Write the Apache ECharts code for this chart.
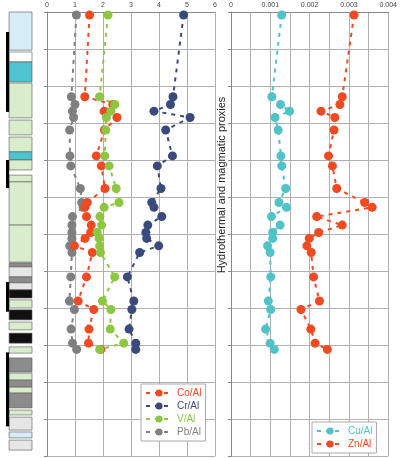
<!DOCTYPE html>
<html><head><meta charset="utf-8">
<script src="https://cdn.jsdelivr.net/npm/echarts@6/dist/echarts.min.js"></script>
<style>html,body{margin:0;padding:0;background:#fff}#c{width:400px;height:458px}</style>
</head><body><div id="c"></div>
<script>
var depths = [0.08,2.29,2.50,2.68,2.85,3.19,3.89,4.16,4.77,5.15,5.28,5.53,5.76,5.96,6.12,6.32,6.50,7.16,7.81,8.04,8.57,8.95,9.12];
var coAl = [1.52,1.35,2.35,2.04,2.50,2.05,1.76,1.94,2.07,1.44,1.35,1.41,1.58,1.56,1.36,0.98,1.62,1.41,1.11,1.67,1.50,1.48,1.92];
var crAl = [4.88,4.50,4.41,3.82,5.11,4.24,4.48,3.94,4.07,3.74,3.82,4.10,3.60,3.53,3.56,3.99,3.31,2.87,3.10,3.03,2.93,3.17,3.17];
var vAl  = [2.18,1.88,2.42,2.28,2.12,2.10,2.06,2.22,2.47,2.57,2.04,1.89,1.95,1.79,1.86,1.88,1.91,2.42,1.98,2.28,2.26,2.74,1.88];
var pbAl = [1.05,0.87,1.00,0.91,0.95,0.81,0.82,0.85,1.19,1.24,1.29,0.91,0.89,0.89,0.89,0.81,0.89,0.85,0.80,0.98,0.86,0.91,1.06];
var cuAl = [0.00129,0.00104,0.00126,0.00149,0.00112,0.00120,0.00127,0.00129,0.00139,0.00122,0.00141,0.00103,0.00125,0.00106,0.00106,0.00093,0.000995,0.00101,0.00095,0.00101,0.00088,0.000995,0.00110];
var znAl = [0.00313,0.00283,0.00277,0.00229,0.00264,0.00262,0.00248,0.00258,0.00269,0.00340,0.00359,0.00218,0.00283,0.00223,0.00199,0.00193,0.00204,0.00210,0.00225,0.00178,0.00203,0.00214,0.00245];
var xTicksLeft = ['0','1','2','3','4','5','6'];
var xTicksRight = ['0','0.001','0.002','0.003','0.004'];
// lithology intervals: [top, bottom, type]
var lithTop = [0,1.08,1.35,1.92,2.92,3.38,3.78,4.0,4.41,4.59,5.76,6.78,6.89,7.16,7.32,7.51,7.78,8.05,8.38,8.68,9.05,9.35,9.76,9.95,10.14,10.3,10.76,10.95,11.35,11.57];
var lithBot = [1.03,1.35,1.89,2.86,3.32,3.78,4.0,4.27,4.59,5.76,6.76,6.89,7.16,7.32,7.51,7.73,8.0,8.32,8.59,8.95,9.22,9.73,9.95,10.14,10.3,10.7,10.89,11.3,11.51,11.84];
var lithType = ['blue','white','teal','green','green','green','teal','green','green','green','green','grey','cong','grey','cong','black','green','black','green','black','green','grey','green','grey','green','grey','green','cong','blue','cong'];
var barTop = [0.54,4.0,7.3,9.2];
var barBot = [2.7,4.76,8.1,11.2];

var colors = {blue:'#d6ecf7',white:'#ffffff',teal:'#4fc3cf',green:'#d9eccb',grey:'#8c8c8c',cong:'#e6e6e6',black:'#111111'};
function pairs(vals){return vals.map(function(v,i){return [v,depths[i]];});}
function series(name,vals,color,xi){
  return {name:name,type:'line',xAxisIndex:xi,yAxisIndex:xi,data:pairs(vals),
    symbol:'circle',symbolSize:9,lineStyle:{color:color,width:2,type:[4,5]},
    itemStyle:{color:color},color:color};
}
var gridLine = {show:true,lineStyle:{color:'#b0b0b0',width:1}};
var option = {
  animation:false,
  grid:[
    {left:6,top:12,width:26,height:444},
    {left:47,top:12,width:168,height:444},
    {left:231,top:12,width:159,height:444}
  ],
  xAxis:[
    {gridIndex:0,min:0,max:1,show:false},
    {gridIndex:1,type:'value',position:'top',min:0,max:6,interval:1,
     axisLine:{show:true,lineStyle:{color:'#888'}},axisTick:{show:false},
     axisLabel:{fontSize:7,color:'#444',margin:3,formatter:function(v){return xTicksLeft[Math.round(v)];}},
     splitLine:gridLine},
    {gridIndex:2,type:'value',position:'top',min:0,max:0.004,interval:0.0005,
     axisLine:{show:true,lineStyle:{color:'#888'}},axisTick:{show:false},
     axisLabel:{fontSize:7,color:'#444',margin:3,formatter:function(v){var k=Math.round(v/0.0005);return k%2===0?xTicksRight[k/2]:'';}},
     splitLine:gridLine}
  ],
  yAxis:[
    {gridIndex:0,type:'value',inverse:true,min:0,max:12,show:false},
    {gridIndex:1,type:'value',inverse:true,min:0,max:12,interval:1,
     axisLine:{show:true,lineStyle:{color:'#888'}},axisTick:{show:true,length:3},axisLabel:{show:false},splitLine:gridLine},
    {gridIndex:2,type:'value',inverse:true,min:0,max:12,interval:1,
     axisLine:{show:true,lineStyle:{color:'#888'}},axisTick:{show:true,length:3},axisLabel:{show:false},splitLine:gridLine}
  ],
  legend:[
    {data:[{name:'Co/Al',textStyle:{color:'#f04a23'}},{name:'Cr/Al',textStyle:{color:'#3a4a7d'}},{name:'V/Al',textStyle:{color:'#8dc63f'}},{name:'Pb/Al',textStyle:{color:'#7f7f7f'}}],
     left:141,top:384,orient:'vertical',itemGap:3,itemWidth:26,itemHeight:9,
     backgroundColor:'#fff',borderColor:'#aaa',borderWidth:1,padding:[4,4,4,4],
     textStyle:{fontSize:10,fontFamily:'Liberation Sans'}},
    {data:[{name:'Cu/Al',textStyle:{color:'#4fc3c8'}},{name:'Zn/Al',textStyle:{color:'#f04a23'}}],
     left:312,top:422,orient:'vertical',itemGap:3,itemWidth:26,itemHeight:9,
     backgroundColor:'#fff',borderColor:'#aaa',borderWidth:1,padding:[4,4,4,4],
     textStyle:{fontSize:10,fontFamily:'Liberation Sans'}}
  ],
  graphic:[{type:'text',x:222,y:185,rotation:Math.PI/2,
    style:{text:'Hydrothermal and magmatic proxies',fontSize:11,fill:'#222',fontFamily:'Liberation Sans',align:'center',verticalAlign:'middle'}}],
  series:[
    {type:'custom',xAxisIndex:0,yAxisIndex:0,silent:true,
     data:lithTop.map(function(t,i){return [t,lithBot[i],i];}),
     renderItem:function(p,api){
       var i=api.value(2);var a=api.coord([0.12,api.value(0)]);var b=api.coord([1,api.value(1)]);
       return {type:'rect',shape:{x:a[0],y:a[1],width:b[0]-a[0],height:b[1]-a[1]},
         style:{fill:colors[lithType[i]],stroke:'#555',lineWidth:0.6}};
     }},
    {type:'custom',xAxisIndex:0,yAxisIndex:0,silent:true,
     data:barTop.map(function(t,i){return [t,barBot[i]];}),
     renderItem:function(p,api){
       var a=api.coord([0,api.value(0)]);var b=api.coord([0.12,api.value(1)]);
       return {type:'rect',shape:{x:a[0],y:a[1],width:b[0]-a[0],height:b[1]-a[1]},style:{fill:'#000'}};
     }},
    series('Pb/Al',pbAl,'#7f7f7f',1),
    series('Cr/Al',crAl,'#3a4a7d',1),
    series('Co/Al',coAl,'#f04a23',1),
    series('V/Al',vAl,'#8dc63f',1),
    series('Cu/Al',cuAl,'#4fc3c8',2),
    series('Zn/Al',znAl,'#f04a23',2)
  ]
};
var chart=echarts.init(document.getElementById('c'));
chart.setOption(option);
</script></body></html>
